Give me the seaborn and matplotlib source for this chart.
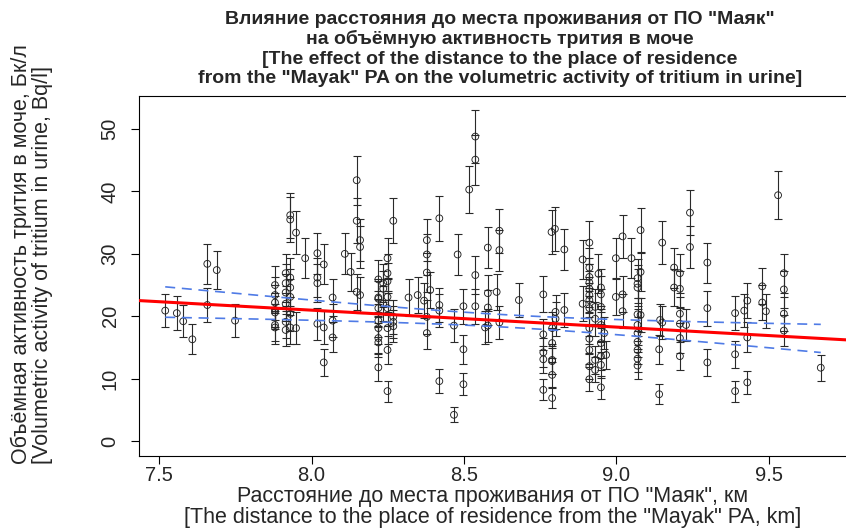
import numpy as np
import pandas as pd
import seaborn as sns
import matplotlib.pyplot as plt

# Distance to place of residence (km), tritium activity in urine (Bq/l), error bar half-width
distance = [
    7.520, 7.558, 7.579, 7.609, 7.658, 7.658, 7.689, 7.749,
    7.880, 7.880, 7.880, 7.880, 7.880, 7.880, 7.880,
    7.915, 7.915, 7.915, 7.915, 7.915, 7.915,
    7.930, 7.930, 7.930, 7.930, 7.930, 7.930, 7.930,
    7.949, 7.949, 7.979,
    8.019, 8.019, 8.019, 8.019,
    8.040, 8.040, 8.040,
    8.069, 8.069, 8.069,
    8.109, 8.128,
    8.148, 8.148, 8.148,
    8.159, 8.159, 8.159,
    8.219, 8.219, 8.219, 8.219, 8.219, 8.219, 8.219, 8.219, 8.219,
    8.235, 8.235, 8.235,
    8.249, 8.249, 8.249, 8.249, 8.249, 8.249, 8.249, 8.249,
    8.268, 8.268, 8.268, 8.268,
    8.318, 8.348, 8.369,
    8.378, 8.378, 8.378, 8.378, 8.378,
    8.389,
    8.419, 8.419, 8.419, 8.419,
    8.467, 8.467, 8.479,
    8.498, 8.498, 8.498,
    8.517,
    8.537, 8.537, 8.537, 8.537,
    8.569,
    8.578, 8.578, 8.578, 8.578,
    8.607,
    8.616, 8.616, 8.616,
    8.680,
    8.760, 8.760, 8.760, 8.760, 8.760,
    8.787,
    8.789, 8.789, 8.789, 8.789, 8.789, 8.789,
    8.798, 8.800, 8.800,
    8.829, 8.829,
    8.889, 8.889,
    8.911, 8.911, 8.911, 8.911, 8.911, 8.911, 8.911, 8.911, 8.911, 8.911, 8.911, 8.911, 8.911,
    8.930, 8.930, 8.930, 8.930,
    8.941,
    8.949, 8.949, 8.949, 8.949, 8.949, 8.949, 8.949, 8.949,
    8.960, 8.966,
    8.998, 8.998,
    9.020, 9.020, 9.020,
    9.049,
    9.069, 9.069, 9.069, 9.069, 9.069, 9.069, 9.069, 9.069, 9.069, 9.069,
    9.079, 9.079, 9.079,
    9.140, 9.140, 9.143, 9.150, 9.150,
    9.189, 9.189,
    9.208, 9.208, 9.208, 9.208, 9.208, 9.208,
    9.228, 9.241, 9.241,
    9.298, 9.298, 9.298,
    9.389, 9.389, 9.389,
    9.419,
    9.429, 9.429, 9.429,
    9.478, 9.478, 9.490, 9.530,
    9.549, 9.549, 9.549, 9.549,
    9.670,
]
activity = [
    20.9, 20.5, 19.2, 16.3, 28.4, 21.8, 27.4, 19.3,
    25.0, 23.4, 22.2, 21.0, 20.6, 18.6, 18.2,
    26.9, 25.3, 23.8, 22.0, 19.1, 17.8,
    36.2, 35.5, 26.2, 24.6, 23.1, 20.4, 18.2,
    33.4, 18.1, 29.3,
    30.1, 26.2, 25.3, 18.8,
    28.3, 18.2, 12.6,
    23.0, 19.3, 16.6,
    30.0, 27.1,
    41.8, 35.3, 23.9,
    32.2, 31.1, 23.4,
    25.9, 23.0, 22.8, 21.3, 19.3, 18.1, 16.5, 15.8, 11.8,
    25.3, 24.4, 22.0,
    29.3, 26.9, 25.6, 23.1, 21.3, 18.1, 14.6, 8.0,
    35.3, 19.9, 19.1, 18.4,
    23.0, 23.4, 22.5,
    32.2, 29.9, 27.0, 19.9, 17.3,
    24.2,
    35.7, 21.8, 20.9, 9.6,
    18.5, 4.2, 29.9,
    21.6, 14.7, 9.1,
    40.3,
    48.8, 45.1, 26.6, 21.6,
    18.2,
    31.0, 23.7, 21.4, 18.5,
    23.9,
    33.7, 30.6, 19.0,
    22.6,
    23.5, 17.1, 14.2, 13.1, 8.2,
    33.5,
    18.1, 15.7, 13.0, 12.8, 10.6, 6.9,
    34.0, 20.7, 19.6,
    30.7, 21.0,
    29.1, 22.0,
    31.8, 27.8, 26.3, 25.4, 24.4, 23.4, 22.6, 21.3, 18.1, 16.4, 14.6, 12.0, 9.9,
    21.5, 19.6, 13.0, 11.4,
    26.8,
    24.6, 23.5, 21.5, 18.6, 15.7, 13.6, 12.2, 8.6,
    17.3, 13.8,
    29.3, 23.1,
    32.8, 23.5, 20.8,
    29.3,
    26.1, 25.2, 24.6, 20.3, 18.6, 17.3, 15.9, 14.6, 13.2, 12.1,
    33.8, 27.1, 20.2,
    14.7, 7.5, 19.4, 31.8, 19.0,
    27.8, 24.6,
    26.9, 24.4, 20.4, 18.8, 16.5, 13.6,
    18.6, 36.6, 31.1,
    28.6, 21.3, 12.6,
    20.5, 13.9, 8.0,
    20.9,
    22.5, 16.6, 9.4,
    24.8, 22.2, 20.8, 39.4,
    26.9, 24.3, 20.4, 17.7,
    11.75,
]
error = [
    2.7, 2.7, 2.6, 2.4, 3.2, 2.8, 3.1, 2.6,
    3.0, 2.9, 2.8, 2.8, 2.7, 2.6, 2.6,
    3.1, 3.0, 2.9, 2.8, 2.6, 2.5,
    3.6, 3.6, 3.1, 2.9, 2.9, 2.7, 2.6,
    3.5, 2.6, 3.2,
    3.3, 3.1, 3.0, 2.6,
    3.2, 2.6, 2.1,
    2.9, 2.6, 2.4,
    3.3, 3.1,
    3.9, 3.6, 2.9,
    3.4, 3.3, 2.9,
    3.1, 2.9, 2.9, 2.8, 2.6, 2.6, 2.4, 2.4, 2.1,
    3.0, 2.9, 2.8,
    3.2, 3.1, 3.0, 2.9, 2.8, 2.6, 2.3, 1.7,
    3.6, 2.7, 2.6, 2.6,
    2.9, 2.9, 2.8,
    3.4, 3.3, 3.1, 2.7, 2.5,
    2.9,
    3.6, 2.8, 2.7, 1.9,
    2.6, 1.2, 3.3,
    2.8, 2.3, 1.8,
    3.8,
    4.2, 4.0, 3.1, 2.8,
    2.6,
    3.3, 2.9, 2.8, 2.6,
    2.9,
    3.5, 3.3, 2.6,
    2.8,
    2.9, 2.5, 2.3, 2.2, 1.7,
    3.5,
    2.6, 2.4, 2.2, 2.1, 2.0, 1.6,
    3.5, 2.7, 2.7,
    3.3, 2.8,
    3.2, 2.8,
    3.4, 3.2, 3.1, 3.0, 2.9, 2.9, 2.8, 2.8, 2.6, 2.4, 2.3, 2.1, 1.9,
    2.8, 2.7, 2.2, 2.0,
    3.1,
    2.9, 2.9, 2.8, 2.6, 2.4, 2.2, 2.1, 1.8,
    2.5, 2.2,
    3.2, 2.9,
    3.4, 2.9, 2.7,
    3.2,
    3.1, 3.0, 2.9, 2.7, 2.6, 2.5, 2.4, 2.3, 2.2, 2.1,
    3.5, 3.1, 2.7,
    2.3, 1.6, 2.6, 3.4, 2.6,
    3.2, 2.9,
    3.1, 2.9, 2.7, 2.6, 2.4, 2.2,
    2.6, 3.6, 3.3,
    3.2, 2.8, 2.1,
    2.7, 2.2, 1.7,
    2.7,
    2.8, 2.4, 1.8,
    2.9, 2.8, 2.7, 3.8,
    3.1, 2.9, 2.7, 2.5,
    2.1,
]

x_ticks = [7.5, 8.0, 8.5, 9.0, 9.5]
y_ticks = [0, 10, 20, 30, 40, 50]

title = ('Влияние расстояния до места проживания от ПО "Маяк"\n'
         'на объёмную активность трития в моче\n'
         '[The effect of the distance to the place of residence\n'
         'from the "Mayak" PA on the volumetric activity of tritium in urine]')
x_label = ('Расстояние до места проживания от ПО "Маяк", км\n'
           '[The distance to the place of residence from the "Mayak" PA, km]')
y_label = ('Объёмная активность трития в моче, Бк/л\n'
           '[Volumetric activity of tritium in urine, Bq/l]')

df = pd.DataFrame({"distance": distance, "activity": activity, "error": error})

sns.set_style("ticks")
plt.rcParams["font.family"] = ["Liberation Sans", "DejaVu Sans"]

fig = plt.figure(figsize=(8.46, 5.29), dpi=100)
ax = fig.add_axes([139 / 846, 73 / 529, 708 / 846, 360 / 529])
x_lim = (7.434, 9.756)
y_lim = (-2.4, 55.3)

# error bars and open circles
ax.errorbar(df["distance"], df["activity"], yerr=df["error"], fmt="none",
            ecolor="#2a2a2a", elinewidth=0.8, capsize=2.8, capthick=0.8, zorder=2)
sns.scatterplot(data=df, x="distance", y="activity", ax=ax, s=24, marker="o",
                facecolor="none", edgecolor="#222222", linewidth=0.65, zorder=3)

# weighted linear fit (weights 1/error^2), drawn across the whole plot
coef, cov = np.polyfit(df["distance"], df["activity"], 1, w=1 / df["error"], cov=True)
fit_x = np.linspace(x_lim[0], x_lim[1], 50)
fit = pd.DataFrame({"distance": fit_x, "activity": np.polyval(coef, fit_x)})
sns.lineplot(data=fit, x="distance", y="activity", ax=ax, color="#ff0000",
             lw=2.2, zorder=4)

# 95% confidence band of the fit, dashed, over the data range
band_x = np.linspace(df["distance"].min(), df["distance"].max(), 100)
design = np.vstack([band_x, np.ones_like(band_x)]).T
se = np.sqrt(np.einsum("ij,jk,ik->i", design, cov, design))
for sign in (1, -1):
    band = pd.DataFrame({"distance": band_x,
                         "activity": np.polyval(coef, band_x) + sign * 1.97 * se})
    ax.plot(band["distance"], band["activity"], color="#4f7be6", lw=1.2,
            dashes=(6, 4), zorder=4)

ax.set_xlim(*x_lim)
ax.set_ylim(*y_lim)
ax.set_xlabel("")
ax.set_ylabel("")
ax.set_xticks(x_ticks)
ax.set_xticklabels([f"{t:.1f}" for t in x_ticks])
ax.set_yticks(y_ticks)
ax.tick_params(axis="both", labelsize=14.5, length=6, width=0.8, color="black")
ax.tick_params(axis="x", pad=1)
ax.tick_params(axis="y", labelrotation=90, pad=8)
for lab in ax.get_yticklabels():
    lab.set_va("center")
for sp in ax.spines.values():
    sp.set_color("black")
    sp.set_linewidth(0.8)

fig.text(500 / 846, 1 - 11 / 529, title, ha="center", va="top", fontsize=14,
         fontweight="bold", linespacing=1.17)
fig.text(493 / 846, 1 - 486 / 529, x_label, ha="center", va="top", fontsize=15.5,
         linespacing=1.03)
fig.text(11 / 846, 275 / 529, y_label, ha="left", va="center", rotation=90,
         fontsize=15.5, linespacing=1.0)

fig.savefig("out.png", dpi=100)
